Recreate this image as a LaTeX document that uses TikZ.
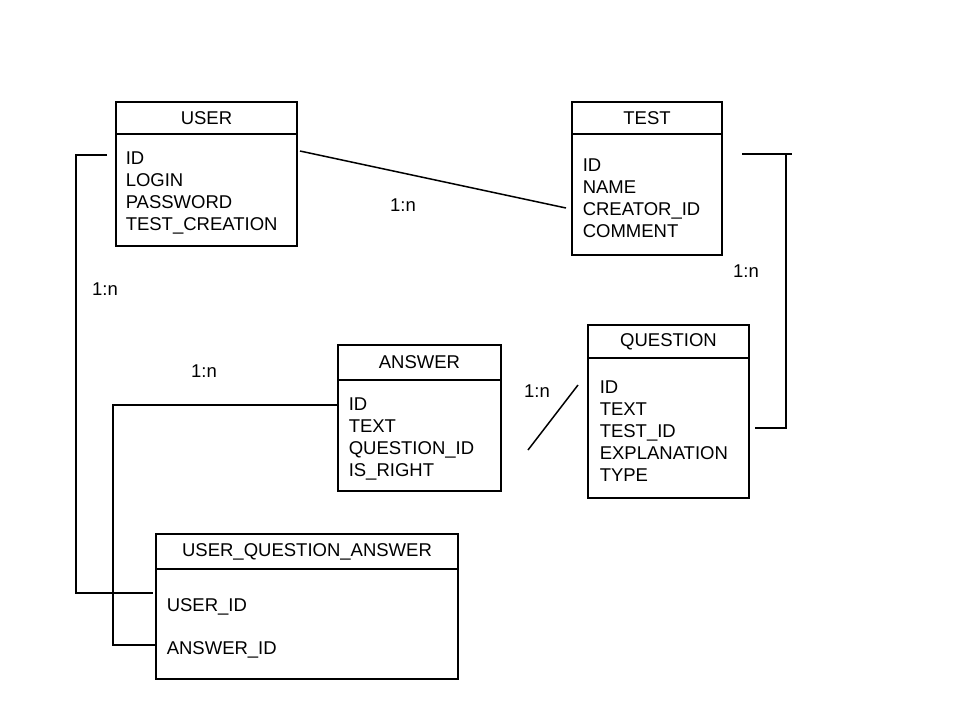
\documentclass[tikz,border=0pt]{standalone}
\usepackage{fontspec}
\setmainfont{Liberation Sans}
\begin{document}
\begin{tikzpicture}[x=1pt, y=-1pt, line width=1.5pt,
			every node/.style = {font=\fontsize{18.5}{22}\selectfont},
			tablehead/.style = {draw, anchor=north west, inner sep=0pt, outer sep=0pt, minimum height=32pt},
			tablebody/.style = {draw, anchor=north west, inner sep=0pt, outer sep=0pt},
			fields/.style = {anchor=north west, align=left, inner sep=0pt}]
			
			\useasboundingbox (0,0) rectangle (960,720);
			
			% tables
			\node[tablehead, minimum width=181pt] (user-head) at (116,102) {USER};
			\node[tablebody, minimum width=181pt, minimum height=112pt] (user-body) at (user-head.south west) {};
			\node[fields] (user-fields) at (125,151) {ID\\LOGIN\\PASSWORD\\TEST\_CREATION};
			
			\node[tablehead, minimum width=150pt] (test-head) at (572,102) {TEST};
			\node[tablebody, minimum width=150pt, minimum height=121pt] (test-body) at (test-head.south west) {};
			\node[fields] (test-fields) at (582,158) {ID\\NAME\\CREATOR\_ID\\COMMENT};
			
			\node[tablehead, minimum width=161pt, minimum height=33pt] (question-head) at (588,325) {QUESTION};
			\node[tablebody, minimum width=161pt, minimum height=140pt] (question-body) at (question-head.south west) {};
			\node[fields] (question-fields) at (599,380) {ID\\TEXT\\TEST\_ID\\EXPLANATION\\TYPE};
			
			\node[tablehead, minimum width=163pt, minimum height=35pt] (answer-head) at (338,345) {ANSWER};
			\node[tablebody, minimum width=163pt, minimum height=111pt] (answer-body) at (answer-head.south west) {};
			\node[fields] (answer-fields) at (348,397) {ID\\TEXT\\QUESTION\_ID\\IS\_RIGHT};
			
			\node[tablehead, minimum width=302pt, minimum height=35pt] (uqa-head) at (156,534) {USER\_QUESTION\_ANSWER};
			\node[tablebody, minimum width=302pt, minimum height=110pt] (uqa-body) at (uqa-head.south west) {};
			\node[fields] (uqa-fields) at (166,598) {USER\_ID\\[21pt]ANSWER\_ID};
			
			% connector ends
			\coordinate (user-id) at ([shift={(3,17)}]user-body.north east);
			\coordinate (test-creator) at ([shift={(-6,74)}]test-body.north west);
			\coordinate (test-id) at ([shift={(20,20)}]test-body.north east);
			\coordinate (test-tick) at ([shift={(70,20)}]test-body.north east);
			\coordinate (question-test) at ([shift={(6,70)}]question-body.north east);
			\coordinate (question-id) at ([shift={(-10,27)}]question-body.north west);
			\coordinate (answer-question) at ([shift={(27,70)}]answer-body.north east);
			\coordinate (answer-id) at ([shift={(0,25)}]answer-body.north west);
			\coordinate (user-uid) at ([shift={(-9,21)}]user-body.north west);
			\coordinate (uqa-user) at ([shift={(-3,24)}]uqa-body.north west);
			\coordinate (uqa-answer) at ([shift={(1,76)}]uqa-body.north west);
			
			% relations
			\draw (user-id) -- (test-creator);
			\draw (test-id) -- (test-tick);
			\draw ([shift={(-6,0)}]test-tick) |- (question-test);
			\draw (question-id) -- (answer-question);
			\draw (answer-id) -| ([shift={(-44,0)}]uqa-answer) -- (uqa-answer);
			\draw (user-uid) -| ([shift={(-77,0)}]uqa-user) -- (uqa-user);
			
			% labels
			\node (card-user-test) at (403,205) {1:n};
			\node (card-test-question) at (746,271) {1:n};
			\node (card-user-uqa) at (105,289) {1:n};
			\node (card-answer-uqa) at (204,371) {1:n};
			\node (card-question-answer) at (537,391) {1:n};
			\end{tikzpicture}
\end{document}
